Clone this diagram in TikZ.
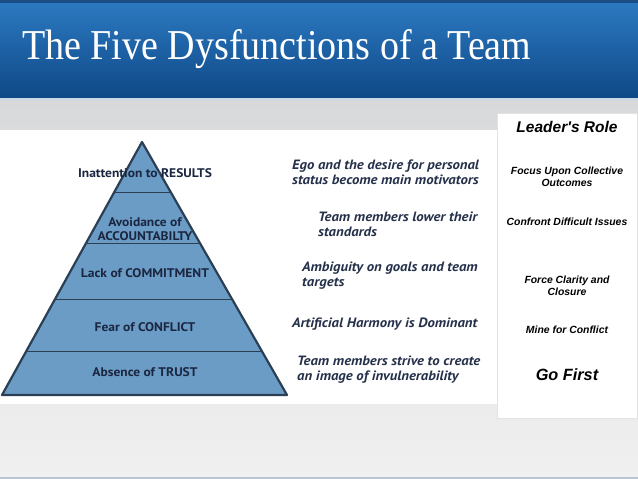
\documentclass[tikz,border=0pt]{standalone}
\usepackage{fontspec}
\setmainfont{Liberation Serif}
\newfontfamily\pyrfont[FakeStretch=1.08]{PT Sans}
\newfontfamily\causefont[FakeStretch=1.09]{PT Sans}
\newfontfamily\rolefont{Liberation Sans}
\usetikzlibrary{calc}
\definecolor{bartop}{HTML}{2C79C1}
\definecolor{barbot}{HTML}{0E4886}
\definecolor{barline}{HTML}{1C4E86}
\definecolor{barlight}{HTML}{C9D7E6}
\definecolor{bgtop}{HTML}{D8D9DB}
\definecolor{bgbot}{HTML}{F0F0F0}
\definecolor{bgline}{HTML}{B9C6D6}
\definecolor{pyrfill}{HTML}{6B9CC6}
\definecolor{pyrline}{HTML}{2B3F55}
\definecolor{pyrtext}{HTML}{1B2640}
\definecolor{midtext}{HTML}{25304A}
\definecolor{panelline}{HTML}{E2E2E2}

\begin{document}
\begin{tikzpicture}[x=1pt, y=1pt,
  level/.style={font=\pyrfont\bfseries\fontsize{12.5}{14}\selectfont, text=pyrtext, align=center, inner sep=0pt},
  cause/.style={font=\causefont\bfseries\itshape\fontsize{13.5}{14.5}\selectfont, text=midtext, align=left, anchor=west, inner sep=0pt},
  lead/.style={font=\rolefont\bfseries\itshape\fontsize{10.4}{12.5}\selectfont, text=black, align=center, inner sep=0pt},
  bighead/.style={lead, font=\rolefont\bfseries\itshape\fontsize{15.5}{17}\selectfont}]
  \useasboundingbox (0,0) rectangle (638,479);
  \shade[top color=bgtop, bottom color=bgbot] (0,0) rectangle (638,379);
  \fill[bgline] (0,0) rectangle (638,2);
  \shade[top color=bartop, bottom color=barbot] (0,381) rectangle (638,476);
  \fill[barline] (0,476) rectangle (638,479);
  \fill[barlight] (0,379) rectangle (638,381);
  \node[anchor=west, text=white, font=\fontsize{38}{40}\selectfont, inner sep=0pt] (title) at (22,430) {\scalebox{1}[1.12]{The Five Dysfunctions of a Team}};
  \fill[white] (0,75) rectangle (497,349);
  \draw[panelline, fill=white] (497,61) rectangle (637,366);
  \coordinate (apex) at (142,337);
  \coordinate (bl) at (2,84);
  \coordinate (br) at (287,84);
  \fill[pyrfill] (apex) -- (bl) -- (br) -- cycle;
  \foreach \t in {0.2016,0.403,0.6245,0.83}
    \draw[pyrline, line width=1pt] ($(apex)!\t!(bl)$) -- ($(apex)!\t!(br)$);
  \draw[pyrline, line width=2.2pt, line join=round] (apex) -- (bl) -- (br) -- cycle;
  \node[level] (lres) at (145,306) {Inattention to RESULTS};
  \node[level] (lacc) at (145,249.5) {Avoidance of\\ACCOUNTABILTY};
  \node[level] (lcom) at (145,206) {Lack of COMMITMENT};
  \node[level] (lcon) at (145,152) {Fear of CONFLICT};
  \node[level] (ltru) at (145,107) {Absence of TRUST};
  \node[cause] (dres) at (292,306.5) {Ego and the desire for personal\\status become main motivators};
  \node[cause] (dacc) at (318,254.5) {Team members lower their\\standards};
  \node[cause] (dcom) at (302,203.5) {Ambiguity on goals and team\\targets};
  \node[cause] (dcon) at (292,155) {Artificial Harmony is Dominant};
  \node[cause] (dtru) at (297,109.5) {Team members strive to create\\an image of invulnerability};
  \node[bighead] (role) at (567,352) {Leader's Role};
  \node[lead] (rres) at (567,302) {Focus Upon Collective\\Outcomes};
  \node[lead] (racc) at (567,257) {Confront Difficult Issues};
  \node[lead] (rcom) at (567,193) {Force Clarity and\\Closure};
  \node[lead] (rcon) at (567,149) {Mine for Conflict};
  \node[bighead, font=\rolefont\bfseries\itshape\fontsize{16.3}{18}\selectfont] (rtru) at (567,104) {Go First};
\end{tikzpicture}
\end{document}
